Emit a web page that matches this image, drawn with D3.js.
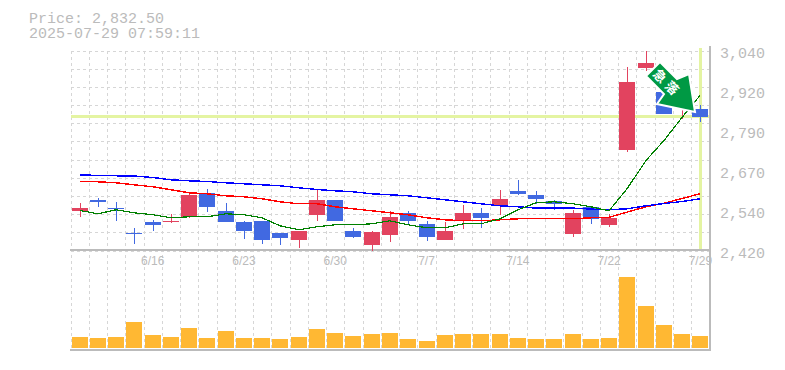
<!DOCTYPE html>
<html>
<head>
<meta charset="utf-8">
<script src="https://cdn.jsdelivr.net/npm/d3@7"></script>
<style>
    html, body { margin: 0; padding: 0; background: #fff; }
    svg { display: block; }
    .mono { font-family: "Liberation Mono", monospace; font-size: 15px; fill: #bbb; }
    .axis-x text { font-family: "Liberation Sans", sans-serif; font-size: 12px; fill: #bbb; }
    .axis-y text { font-family: "Liberation Mono", monospace; font-size: 15px; fill: #bbb; }
    .axis path, .axis line { display: none; }
</style>
</head>
<body>
<div id="chart"></div>
<script>
// chart values
const title = ['Price: 2,832.50', '2025-07-29 07:59:11'];
const lastPrice = 2832.5;

const dayLabels = ['6/16', '6/23', '6/30', '7/7', '7/14', '7/22', '7/29'];
const dayIndexes = [4, 9, 14, 19, 24, 29, 34];

const opens = [2544,2578,2553,2473,2507,2507,2525,2597,2541,2507,2513,2473,2454,2529,2578,2479,2436,2467,2535,2501,2454,2513,2535,2560,2603,2591,2575,2470,2556,2498,2733,2987,2910,2866,2860];
const highs = [2566,2584,2569,2491,2516,2532,2597,2612,2566,2510,2513,2473,2482,2612,2578,2491,2479,2544,2541,2510,2507,2560,2553,2609,2640,2603,2578,2547,2556,2532,2990,3040,2916,2916,2870];
const lows = [2525,2556,2513,2439,2479,2504,2522,2538,2507,2457,2439,2436,2429,2510,2510,2460,2417,2445,2498,2451,2454,2488,2491,2529,2591,2563,2547,2463,2501,2494,2724,2975,2842,2829,2817];
const closes = [2553,2569,2550,2470,2498,2513,2591,2556,2507,2482,2454,2460,2482,2578,2513,2463,2476,2525,2510,2463,2479,2535,2522,2581,2594,2581,2563,2535,2519,2522,2941,3000,2842,2910,2832.5];

const volumes = [11,10,11,26,13,11,20,10,17,10,10,9,11,19,15,12,14,15,9,7,13,14,14,14,10,9,9,14,9,10,71,42,23,14,12];

const maShort = [2544,2533.8,2546.2,2536.9,2530.7,2521.4,2524.5,2524.5,2533.8,2530.7,2521.4,2496.6,2484.2,2493.5,2499.7,2499.7,2502.8,2512.1,2499.7,2490.4,2490.4,2502.8,2502.8,2518.3,2546.2,2567.9,2571,2564.8,2555.5,2543.1,2611.3,2699,2761,2832.3,2900.5];
const maMid = [2633,2633,2629.9,2623.7,2617.5,2608.2,2598.9,2595.8,2589.6,2586.5,2580.3,2571,2564.8,2564.8,2555.5,2549.3,2543.1,2536.9,2530.7,2521.4,2515.2,2512.1,2512.1,2515.2,2518.3,2518.3,2518.3,2518.3,2521.4,2523.2,2538.7,2555.5,2566.6,2581.2,2595.8];
const maLong = [2654.7,2652.5,2651.6,2651,2646.3,2639.2,2636.1,2633.9,2629.9,2626.8,2623.7,2620.6,2614.4,2609.1,2605.1,2602,2595.8,2592.7,2589.6,2583.4,2577.2,2571,2564.8,2558.6,2555.5,2551.4,2551.4,2551.4,2548.3,2546.2,2549.3,2558.6,2565.7,2571.9,2580.3];

const priceTicks = [3040,2916,2792,2668,2544,2420];
const arrowText = ['急', '落'];

// declaring setup/layout variables
const width = 785;
const height = 370;
const m = {l:70.5, r:709.5, t:50.5, b:250.5, volB:348};
const upColor = '#e2435f';
const downColor = '#4169e1';

const svg = d3.select('#chart')
    .append('svg')
    .attr('width', width)
    .attr('height', height);

// setting up scales
const days = d3.range(opens.length);
const scaleX = d3.scaleBand()
    .domain(days)
    .range([m.l, m.r]);
const scaleY = d3.scaleLinear()
    .domain([2420, 3040])
    .range([m.b, m.t]);
const scaleVol = d3.scaleLinear()
    .domain([0, d3.max(volumes)])
    .range([m.volB, m.volB - 71]);
const centerX = i => Math.round(scaleX(i) + scaleX.bandwidth() / 2);

// grid
const grid = svg.append('g')
    .style('stroke', '#d6d6d6')
    .style('stroke-dasharray', '3,3')
    .attr('shape-rendering', 'crispEdges');
grid.selectAll('.grid-x')
    .data(d3.range(opens.length + 1))
    .enter()
    .append('line')
    .attr('x1', d => Math.round(m.l + d * scaleX.step()) + 0.5)
    .attr('x2', d => Math.round(m.l + d * scaleX.step()) + 0.5)
    .attr('y1', m.t)
    .attr('y2', 350);
grid.selectAll('.grid-y')
    .data(d3.range(12))
    .enter()
    .append('line')
    .attr('x1', m.l)
    .attr('x2', m.r)
    .attr('y1', d => Math.round(m.t + d * (m.b - m.t) / 11) + 0.5)
    .attr('y2', d => Math.round(m.t + d * (m.b - m.t) / 11) + 0.5);

// last price cross
const cross = svg.append('g')
    .style('stroke', '#e4f4a2')
    .style('stroke-width', 3)
    .attr('shape-rendering', 'crispEdges');
cross.append('line')
    .attr('x1', m.l)
    .attr('x2', m.r)
    .attr('y1', Math.round(scaleY(lastPrice)) - 0.5)
    .attr('y2', Math.round(scaleY(lastPrice)) - 0.5);
cross.append('line')
    .attr('x1', centerX(34) + 0.5)
    .attr('x2', centerX(34) + 0.5)
    .attr('y1', 48)
    .attr('y2', 249);

// panel frame
const frame = svg.append('g')
    .style('stroke', '#bbb')
    .style('stroke-width', 2)
    .attr('shape-rendering', 'crispEdges');
frame.append('line').attr('x1', 70).attr('x2', 711).attr('y1', 250).attr('y2', 250);
frame.append('line').attr('x1', 70).attr('x2', 711).attr('y1', 350).attr('y2', 350);
frame.append('line').attr('x1', 710).attr('x2', 710).attr('y1', 46).attr('y2', 351);

// candles
const candles = svg.selectAll('.candle')
    .data(days)
    .enter()
    .append('g')
    .attr('class', 'candle')
    .attr('shape-rendering', 'crispEdges')
    .style('fill', i => closes[i] >= opens[i] ? upColor : downColor)
    .style('stroke', i => closes[i] >= opens[i] ? upColor : downColor);
candles.append('line')
    .attr('x1', i => centerX(i) + 0.5)
    .attr('x2', i => centerX(i) + 0.5)
    .attr('y1', i => scaleY(highs[i]))
    .attr('y2', i => scaleY(lows[i]));
candles.append('rect')
    .attr('x', i => centerX(i) - 8)
    .attr('width', 16)
    .attr('y', i => scaleY(Math.max(opens[i], closes[i])))
    .attr('height', i => Math.max(1, Math.abs(scaleY(opens[i]) - scaleY(closes[i]))))
    .style('stroke', 'none');

// moving averages
const line = d3.line()
    .x((d, i) => centerX(i))
    .y(d => scaleY(d));
svg.selectAll('.ma')
    .data([{v:maMid, c:'#f00', w:1.4}, {v:maLong, c:'#00f', w:1.4}, {v:maShort, c:'#008000', w:1.2}])
    .enter()
    .append('path')
    .attr('class', 'ma')
    .attr('d', d => line(d.v))
    .attr('shape-rendering', 'crispEdges')
    .style('fill', 'none')
    .style('stroke', d => d.c)
    .style('stroke-width', d => d.w);

// volume
svg.selectAll('.vol')
    .data(days)
    .enter()
    .append('rect')
    .attr('class', 'vol')
    .attr('x', i => centerX(i) - 8)
    .attr('width', 16)
    .attr('y', i => scaleVol(volumes[i]))
    .attr('height', i => m.volB - scaleVol(volumes[i]))
    .style('fill', '#ffb833');

// axes
svg.append('g')
    .attr('class', 'axis axis-x')
    .attr('transform', 'translate(0,253)')
    .call(d3.axisBottom(scaleX)
        .tickValues(dayIndexes)
        .tickSize(0)
        .tickPadding(3)
        .tickFormat(d => dayLabels[dayIndexes.indexOf(d)]));
svg.append('g')
    .attr('class', 'axis axis-y')
    .attr('transform', 'translate(710,2)')
    .call(d3.axisRight(scaleY)
        .tickValues(priceTicks)
        .tickSize(0)
        .tickPadding(10)
        .tickFormat(d => d3.format(',')(Math.round(d / 10) * 10)));

// title
svg.selectAll('.title')
    .data(title)
    .enter()
    .append('text')
    .attr('class', 'mono')
    .attr('x', 29)
    .attr('y', (d, i) => 23 + i * 15)
    .text(d => d);

// arrow annotation
const arrow = svg.append('g')
    .attr('class', 'arrow');
arrow.append('path')
    .attr('d', 'M660,62L677,79L689,74L695,112L657,104L664,94L646,76Z')
    .style('fill', '#009944')
    .style('stroke', '#fff')
    .style('stroke-width', 2)
    .style('stroke-linejoin', 'miter');
arrow.selectAll('text')
    .data(arrowText)
    .enter()
    .append('text')
    .attr('transform', (d, i) => `translate(${660 + i * 12},${76 + i * 12}) rotate(45)`)
    .attr('text-anchor', 'middle')
    .attr('dy', '0.36em')
    .style('font-family', '"Noto Sans CJK JP", sans-serif')
    .style('font-weight', 'bold')
    .style('font-size', '13px')
    .style('fill', '#fff')
    .text(d => d);
</script>
</body>
</html>
